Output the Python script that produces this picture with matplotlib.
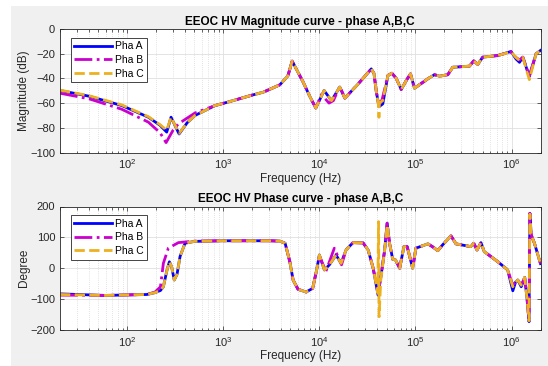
import matplotlib
matplotlib.use("Agg")
import matplotlib.pyplot as plt
from matplotlib.patches import Rectangle
from matplotlib.ticker import LogLocator, NullFormatter

plt.rcParams['font.family'] = ['Liberation Sans', 'DejaVu Sans']
plt.rcParams['mathtext.default'] = 'regular'

# ---------------- data ----------------
series_names = ["Pha A", "Pha B", "Pha C"]

magA_f = [20, 40, 88, 166, 220, 258, 286, 347, 420, 508, 820, 1175, 2000, 2600, 3880, 4700, 5210,
          6780, 8000, 9180, 11200, 13360, 16300, 18400, 25000, 34700, 37000, 39200, 41700, 45700,
          51700, 56800, 63100, 71100, 80200, 88800, 97700, 134500, 157800, 177800, 217000, 244000,
          364500, 404000, 444600, 501000, 717000, 988000, 1.11e6, 1.21e6, 1.31e6, 1.53e6, 1.8e6, 2e6]
magA = [-49.8, -54.4, -62, -71.4, -78, -83.5, -71.4, -85, -76, -70, -62, -58.7, -53.5, -51.2, -45.2, -38, -26,
        -43, -55, -64, -49.8, -58, -47, -56, -45, -32.3, -36, -51, -63, -60.6,
        -37.6, -35.8, -40, -49, -41.7, -36.3, -48, -40.3, -37, -38.2, -37, -31,
        -30.1, -25.8, -28.7, -22.8, -21.5, -18.2, -24.2, -27, -22.8, -38.5, -20, -17.4]

magB_f = [20, 40, 88, 166, 220, 254, 300, 341, 508, 820, 1175, 2000, 2600, 3880, 4700, 5210,
          6780, 8000, 9180, 10500, 12600, 14000, 16300, 18400, 25000, 34700, 37000, 39200, 41700, 45000,
          51700, 56800, 63100, 71100, 80200, 88800, 97700, 134500, 157800, 177800, 217000, 244000,
          364500, 404000, 444600, 501000, 717000, 988000, 1.11e6, 1.21e6, 1.31e6, 1.53e6, 1.8e6, 2e6]
magB = [-52, -56.5, -65, -75.4, -84, -92, -82, -76.8, -68, -62, -58.7, -53.5, -51.2, -45.2, -38, -26,
        -43, -55, -64, -53, -60, -58, -46.5, -56, -45, -32.3, -36, -51, -62, -57,
        -37.6, -35.8, -40, -49, -41.7, -36.3, -48, -40.3, -37, -38.2, -37, -31,
        -30.1, -25.8, -28.7, -22.8, -21.5, -18.5, -23, -25, -22.8, -38, -20, -17.4]

magC_f = [20, 40, 88, 166, 220, 258, 286, 347, 420, 508, 820, 1175, 2000, 2600, 3880, 4700, 5210,
          6780, 8000, 9180, 11200, 13360, 16300, 18400, 25000, 34700, 37000, 39200, 41300, 41700, 42100,
          45700, 51700, 56800, 63100, 71100, 80200, 88800, 97700, 134500, 157800, 177800, 217000, 244000,
          364500, 404000, 444600, 501000, 717000, 988000, 1.11e6, 1.21e6, 1.31e6, 1.53e6, 1.8e6, 2e6]
magC = [-49.5, -54, -61.5, -71, -77.5, -82, -71.4, -84.5, -76, -70, -62, -58.7, -53.5, -51.2, -45.2, -38, -26,
        -43, -55, -64, -49.8, -58, -47, -56, -45, -32.3, -36, -51, -62, -71.5, -60,
        -58, -37.6, -35.8, -40, -49, -41.7, -36.3, -48, -40.3, -37, -38.2, -37, -31,
        -30.1, -25.8, -28.7, -22.8, -21.5, -18.5, -23, -25.5, -23, -41, -20, -17.4]

phA_f = [20, 59, 160, 195, 222, 238, 260, 275, 290, 309, 330, 355, 400, 500, 1000, 3000, 3880, 4400, 4930, 5330,
         5990, 7290, 8520, 9370, 10000, 11280, 12700, 14920, 16800, 19000, 22400, 28500, 32200, 36300,
         40800, 44000, 47800, 50700, 53700, 58000, 62000, 68500, 75800, 82000, 93500, 101000, 134500,
         150000, 170900, 192000, 234000, 264000, 376000, 404000, 437000, 480000, 519000, 717000, 911000,
         1.03e6, 1.1e6, 1.16e6, 1.26e6, 1.37e6, 1.45e6, 1.52e6, 1.55e6, 1.6e6, 1.73e6, 2e6]
phA = [-83, -88, -85, -79, -72, -60, -5, 21, 5, -38, -20, 38, 81, 87, 89, 89, 88, 81, 21, -38,
       -68, -77, -65, -5.5, 43, -5.5, 11, 43, 16, 60, 83, 82, 59, 0,
       -87, -20, 59, 146, 81, 29, 27, 0, 70, 70, 0, 65, 79,
       70, 57, 76, 105, 79, 70, 81, 59, 83, 54, 21.5, -5.5,
       -73, -45, -38, -60, -30, -100, -173, 178, 108, 81, 15]

phB_f = [20, 59, 160, 195, 222, 238, 268, 341, 500, 1000, 3000, 3880, 4400, 4930, 5330,
         5990, 7290, 8520, 9370, 10000, 11700, 14300, 17000, 19000, 22400, 28500, 32200, 36300,
         40800, 44000, 47800, 50700, 53700, 58000, 62000, 68500, 75800, 82000, 93500, 101000, 134500,
         150000, 170900, 192000, 234000, 264000, 376000, 404000, 437000, 480000, 519000, 717000, 911000,
         1.03e6, 1.1e6, 1.16e6, 1.26e6, 1.37e6, 1.45e6, 1.52e6, 1.55e6, 1.6e6, 1.73e6, 2e6]
phB = [-87, -88, -85, -77, -60, 16, 65, 83, 88, 89, 89, 88, 81, 21, -38,
       -68, -77, -65, -5.5, 40, -10, 65, 11, 60, 83, 82, 59, 0,
       -80, -20, 59, 146, 81, 29, 27, 0, 70, 70, 0, 65, 79,
       70, 57, 76, 105, 79, 70, 81, 59, 83, 54, 21.5, -5.5,
       -55, -45, -38, -55, -30, -100, -173, 178, 108, 81, 15]

phC_f = [20, 59, 160, 195, 222, 238, 260, 275, 290, 309, 330, 355, 400, 500, 1000, 3000, 3880, 4400, 4930, 5330,
         5990, 7290, 8520, 9370, 10000, 11280, 12700, 14920, 16800, 19000, 22400, 28500, 32200, 36300,
         40500, 41300, 41800, 43500, 47800, 50700, 53700, 58000, 62000, 68500, 75800, 82000, 93500, 101000,
         134500, 150000, 170900, 192000, 234000, 264000, 376000, 404000, 437000, 480000, 519000, 717000,
         911000, 1.03e6, 1.1e6, 1.16e6, 1.26e6, 1.37e6, 1.45e6, 1.52e6, 1.55e6, 1.6e6, 1.73e6, 2e6]
phC = [-85, -88, -85, -79, -72, -60, -5, 21, 5, -38, -20, 38, 81, 87, 89, 89, 88, 81, 21, -38,
       -68, -77, -65, -5.5, 43, -5.5, 11, 43, 16, 60, 83, 82, 59, 0,
       -80, 151, -157, -40, 59, 140, 81, 29, 27, 0, 70, 70, 0, 65,
       79, 70, 57, 76, 105, 79, 70, 81, 59, 83, 54, 21.5,
       -5.5, -60, -45, -38, -55, -30, -100, -170, 175, 108, 81, 15]

mag_yticks = [-100, -80, -60, -40, -20, 0]
ph_yticks = [-200, -100, 0, 100, 200]

# ---------------- figure ----------------
W, H = 548, 366
fig = plt.figure(figsize=(W / 100, H / 100), dpi=100, facecolor='white')
fig.patches.append(Rectangle((11 / W, 0), 1 - 11 / W, 1 - 6 / H, transform=fig.transFigure,
                             facecolor='#f0f0f0', edgecolor='none', zorder=-10))

def px_axes(l, t, r, b):
    return fig.add_axes([l / W, 1 - b / H, (r - l) / W, (b - t) / H])

ax1 = px_axes(60, 29, 540.5, 152.5)
ax2 = px_axes(60, 206.5, 540.5, 330)

styles = [dict(color='#0000ff', ls='-', lw=2.0),
          dict(color='#cc00cc', ls='-.', lw=2.0),
          dict(color='#edb120', ls='--', lw=2.0)]

def style_axes(ax, yticks, ylim, ylabel, title):
    ax.set_xscale('log')
    ax.set_xlim(20, 2e6)
    ax.set_ylim(*ylim)
    ax.set_yticks(yticks)
    ax.xaxis.set_major_locator(LogLocator(base=10, numticks=10))
    ax.xaxis.set_minor_locator(LogLocator(base=10, subs=range(2, 10), numticks=100))
    ax.xaxis.set_minor_formatter(NullFormatter())
    ax.grid(True, which='major', color='#dfdfdf', lw=0.6, ls='-')
    ax.grid(True, which='minor', axis='x', color='#c8c8c8', lw=0.5, ls=(0, (1, 2)))
    ax.set_axisbelow(True)
    ax.tick_params(which='both', direction='in', top=True, right=True, colors='#262626',
                   labelsize=8, width=0.5)
    ax.tick_params(which='major', length=3)
    ax.tick_params(which='minor', length=1.8)
    for s in ax.spines.values():
        s.set_color('#262626')
        s.set_linewidth(0.6)
    ax.set_xlabel('Frequency (Hz)', fontsize=8.5, color='#262626', labelpad=1)
    ax.set_ylabel(ylabel, fontsize=8.5, color='#262626', labelpad=0)
    ax.set_title(title, fontsize=8.5, fontweight='bold', color='#000000', pad=3)
    leg = ax.legend(loc='upper left', bbox_to_anchor=(0.022, 0.93), fontsize=7.5, frameon=True,
                    fancybox=False, edgecolor='#262626', framealpha=1, handlelength=3.6,
                    borderpad=0.35, labelspacing=0.35, handletextpad=0.3, borderaxespad=0)
    leg.get_frame().set_linewidth(0.6)

for f, v, st, nm in zip([magA_f, magB_f, magC_f], [magA, magB, magC], styles, series_names):
    ax1.plot(f, v, label=nm, **st)
style_axes(ax1, mag_yticks, (-100, 0), 'Magnitude (dB)', 'EEOC HV Magnitude curve - phase A,B,C')

for f, v, st, nm in zip([phA_f, phB_f, phC_f], [phA, phB, phC], styles, series_names):
    ax2.plot(f, v, label=nm, **st)
style_axes(ax2, ph_yticks, (-200, 200), 'Degree', 'EEOC HV Phase curve - phase A,B,C')

fig.savefig('out.png', dpi=100, facecolor=fig.get_facecolor())
